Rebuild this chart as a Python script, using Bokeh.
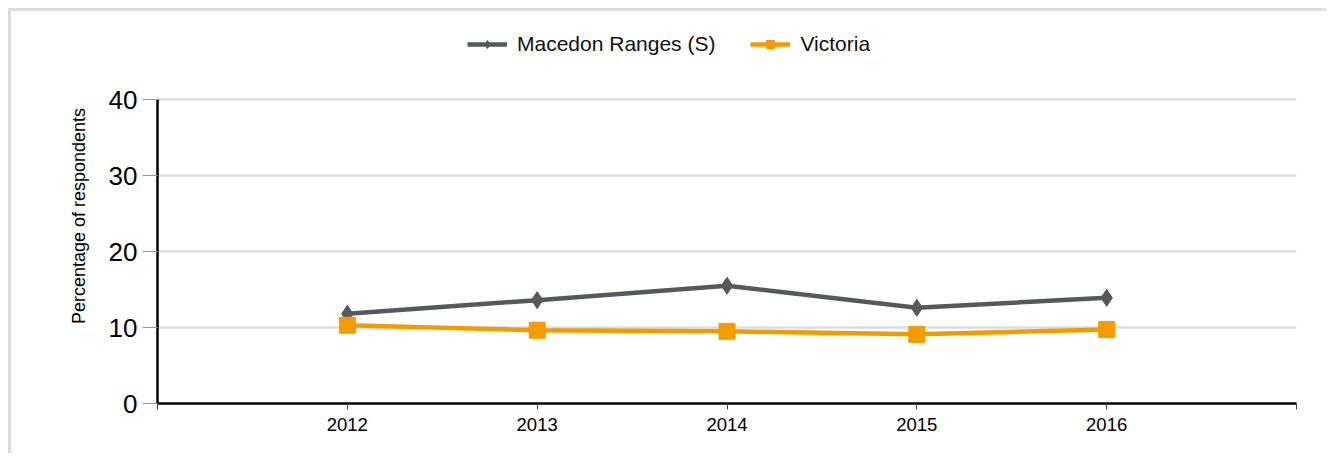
from bokeh.plotting import figure
from bokeh.models import FixedTicker, Legend, LegendItem, Range1d
from bokeh.embed import file_html
from bokeh.resources import INLINE

# ---- data ----
years = [2012, 2013, 2014, 2015, 2016]
macedon = [11.8, 13.6, 15.5, 12.6, 13.9]
victoria = [10.3, 9.65, 9.5, 9.1, 9.75]
series_names = ["Macedon Ranges (S)", "Victoria"]
y_ticks = [0, 10, 20, 30, 40]
x_ticks = [2011, 2012, 2013, 2014, 2015, 2016, 2017]

FONT = "Liberation Sans"
GREY = "#55585c"
ORANGE = "#f49b00"

BORDER = 3
W, H = 1318, 445
ox, oy = 8 + BORDER, 8 + BORDER
FL, FR, FB = 157, 1296, 403
Y40 = 99          # pixel row of the value 40
FT = 28           # frame top (extended so the legend sits inside the frame)
y_top = 40 * (FB - FT) / (FB - Y40)

p = figure(width=W, height=H, output_backend="svg", toolbar_location=None,
           x_range=Range1d(2011, 2017), y_range=Range1d(0, y_top),
           min_border_left=FL - ox, min_border_top=FT - oy,
           min_border_right=W - (FR - ox), min_border_bottom=H - (FB - oy))
p.styles = {"margin-left": "8px", "margin-top": "8px",
            "border-left": "3px solid #dcdcdc", "border-top": "3px solid #dcdcdc"}
p.outline_line_color = None
p.background_fill_color = "white"
p.border_fill_color = "white"

# axes
p.xaxis.ticker = FixedTicker(ticks=x_ticks)
p.xaxis.major_label_overrides = {2011: "", 2017: ""}
p.xaxis.axis_line_color = "black"
p.xaxis.axis_line_width = 2.5
p.xaxis.major_tick_line_color = "#444444"
p.xaxis.major_tick_line_width = 1
p.xaxis.major_tick_out = 6
p.xaxis.major_tick_in = 0
p.xaxis.minor_tick_line_color = None
p.xaxis.major_label_text_font = FONT
p.xaxis.major_label_text_font_size = "18.5px"
p.xaxis.major_label_text_color = "black"
p.xaxis.major_label_standoff = 8

p.yaxis.ticker = FixedTicker(ticks=y_ticks)
p.yaxis.bounds = (0, 40)
p.yaxis.axis_line_color = "black"
p.yaxis.axis_line_width = 2.5
p.yaxis.major_tick_line_color = "#999999"
p.yaxis.major_tick_line_width = 1
p.yaxis.major_tick_out = 15
p.yaxis.major_tick_in = 0
p.yaxis.minor_tick_line_color = None
p.yaxis.major_label_text_font = FONT
p.yaxis.major_label_text_font_size = "26px"
p.yaxis.major_label_text_color = "black"
p.yaxis.major_label_standoff = 5
p.yaxis.axis_label = "Percentage of respondents"
p.yaxis.axis_label_text_font = FONT
p.yaxis.axis_label_text_font_size = "18px"
p.yaxis.axis_label_text_font_style = "normal"
p.yaxis.axis_label_text_color = "black"
p.yaxis.axis_label_standoff = 17

p.xgrid.grid_line_color = None
p.ygrid.ticker = FixedTicker(ticks=y_ticks)
p.ygrid.grid_line_color = "#dddddd"
p.ygrid.grid_line_width = 2.5

# series
l1 = p.line(years, macedon, line_color=GREY, line_width=4.5)
s1 = p.scatter(years, macedon, marker="diamond", size=17, fill_color=GREY, line_color=GREY)
l2 = p.line(years, victoria, line_color=ORANGE, line_width=4.5)
s2 = p.scatter(years, victoria, marker="square", size=16, fill_color=ORANGE, line_color=ORANGE)

legend = Legend(items=[LegendItem(label=series_names[0], renderers=[l1, s1]),
                       LegendItem(label=series_names[1], renderers=[l2, s2])],
                location=(310, FB - 56), orientation="horizontal",
                glyph_width=40, glyph_height=20, label_height=20,
                label_standoff=10, spacing=35, padding=0, margin=0,
                border_line_color=None, background_fill_alpha=0,
                label_text_font=FONT, label_text_font_size="21px",
                label_text_color="#111111")
p.add_layout(legend, "center")

open("out.html", "w").write(file_html(p, INLINE))
